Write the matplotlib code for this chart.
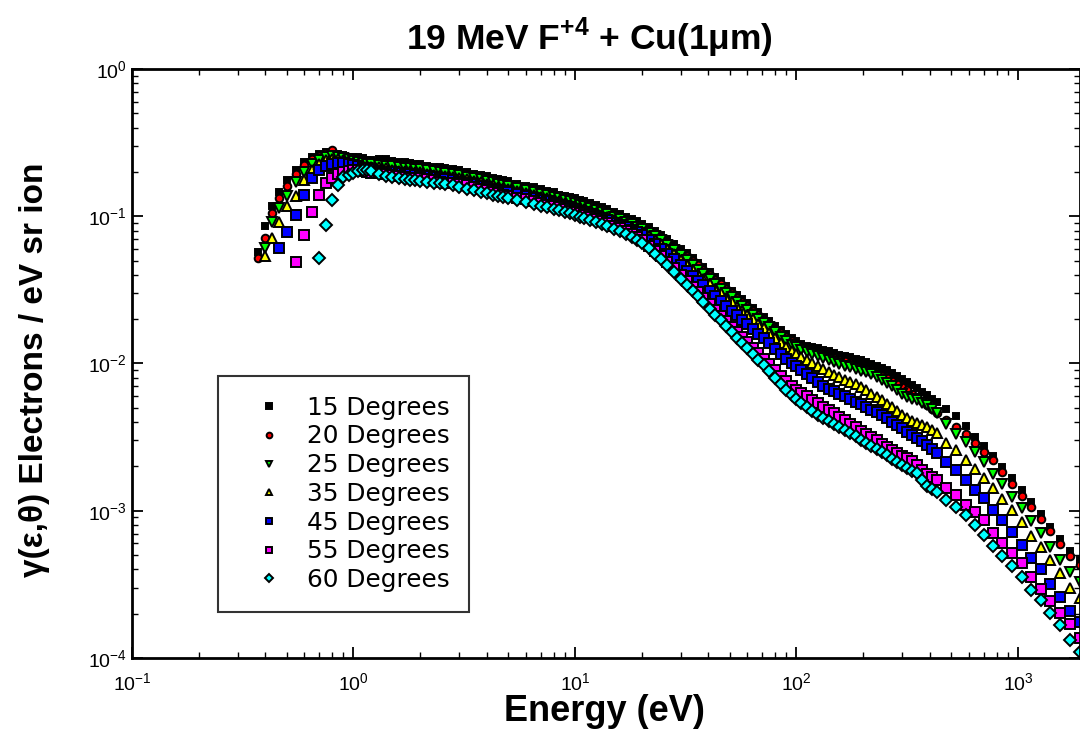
import numpy as np
import matplotlib
matplotlib.use("Agg")
import matplotlib.pyplot as plt

plt.rcParams['font.family'] = ['Liberation Sans', 'DejaVu Sans']
plt.rcParams['mathtext.fontset'] = 'custom'
plt.rcParams['mathtext.rm'] = 'Liberation Sans'
plt.rcParams['mathtext.bf'] = 'Liberation Sans:bold'

nan = np.nan

# electron energy grid (eV)
energy = [0.37, 0.40, 0.43, 0.46, 0.50, 0.55, 0.60, 0.65, 0.70, 0.75,
          0.80, 0.85, 0.90, 0.95, 1.0, 1.05, 1.1, 1.15, 1.2, 1.3,
          1.4, 1.5, 1.6, 1.7, 1.8, 1.9, 2.0, 2.15, 2.3, 2.45,
          2.6, 2.8, 3.0, 3.25, 3.5, 3.75, 4.0, 4.25, 4.5, 4.75,
          5.0, 5.5, 6.0, 6.5, 7.0, 7.5, 8.0, 8.5, 9.0, 9.5,
          10, 10.5, 11, 11.7, 12.5, 13.2, 14, 15, 16, 17,
          18, 19, 20, 21.5, 23, 24.5, 26, 28, 30, 32,
          34, 36, 38, 40.5, 43, 45.5, 48, 51, 54, 57,
          60, 63.5, 67, 71, 75, 80, 85, 90, 95, 100,
          105, 111, 118, 125, 132, 140, 148, 156, 165, 175,
          185, 195, 205, 217, 230, 242, 255, 270, 285, 300,
          315, 332, 350, 370, 390, 410, 430, 475, 525, 580,
          640, 700, 770, 850, 940, 1040, 1150, 1270, 1400, 1550,
          1720, 1900]

# yields, electrons / eV sr ion
y15 = [.0572, .0859, .1174, .1462, .1763, .2061, .2336, .2526, .2647, .2731,
       .2731, .2647, .2606, .2540, .2526, .2530, .2487, .2420, .2410, .2460,
       .2448, .2370, .2336, .2330, .2300, .2250, .2264, .2190, .2160, .2160,
       .2127, .2080, .2061, .2010, .1936, .1920, .1877, .1820, .1790, .1770,
       .1736, .1660, .1605, .1580, .1532, .1490, .1462, .1400, .1373, .1360,
       .1331, .1290, .1269, .1235, .1192, .1150, .1120, .1070, .1036, .0992,
       .0958, .0925, .0886, .0842, .0794, .0748, .0701, .0645, .0599, .0560,
       .0521, .0485, .0452, .0418, .0387, .0362, .0336, .0312, .0292, .0273,
       .0258, .0240, .0224, .0208, .0194, .0181, .0169, .0158, .0149, .0142,
       .0136, .0132, .0129, .0127, .0124, .0121, .0118, .0115, .0112, .0110,
       .0107, .0105, .0102, .00990, .00962, .00935, .00903, .00860, .00823, .00785,
       .00749, .00715, .00682, .00645, .00611, .00578, .00548, .00491, .00440, .00376,
       .00317, .00275, .00235, .00198, .00167, .00138, .00115, .000951, .000775, .000643,
       .000533, .000463]

y20 = [.0521, .0712, .1052, .1331, .1605, .1936, .2229, .2448, .2566, .2689,
       .2818, .2606, .2526, .2450, .2410, .2400, .2373, .2320, .2300, .2310,
       .2300, .2250, .2229, .2230, .2194, .2150, .2127, .2120, .2094, .2050,
       .2029, .2000, .1967, .1910, .1877, .1840, .1790, .1740, .1709, .1690,
       .1656, .1600, .1556, .1500, .1462, .1430, .1395, .1360, .1331, .1300,
       .1269, .1240, .1211, .1170, .1137, .1100, .1069, .1030, .0989, .0950,
       .0914, .0880, .0845, .0800, .0758, .0712, .0669, .0618, .0572, .0535,
       .0497, .0463, .0432, .0398, .0369, .0344, .0321, .0299, .0279, .0262,
       .0246, .0229, .0213, .0198, .0185, .0172, .0161, .0151, .0142, .0135,
       .0129, .0126, .0122, .0118, .0114, .0111, .0109, .0106, .0104, .0100,
       .00962, .00935, .00903, .00876, .00849, .00822, .00797, .00760, .00726, .00693,
       .00661, .00625, .00592, .00556, .00523, .00490, .00461, .00413, .00370, .00332,
       .00288, .00251, .00221, .00183, .00152, .00126, .00106, .000879, .000729, .000595,
       .000493, .000428]

y25 = [nan, .0609, .0914, .1137, .1373, .1709, .1998, .2264, .2410, .2526,
       .2566, .2526, .2487, .2430, .2373, .2350, .2300, .2270, .2264, .2240,
       .2194, .2190, .2160, .2140, .2127, .2100, .2094, .2060, .2029, .2000,
       .1967, .1940, .1906, .1850, .1819, .1780, .1736, .1700, .1656, .1620,
       .1605, .1550, .1508, .1460, .1417, .1390, .1352, .1320, .1289, .1260,
       .1230, .1200, .1174, .1140, .1103, .1070, .1036, .0995, .0958, .0920,
       .0886, .0850, .0819, .0775, .0734, .0686, .0638, .0590, .0546, .0505,
       .0467, .0434, .0405, .0375, .0347, .0323, .0301, .0281, .0262, .0246,
       .0231, .0215, .0201, .0189, .0177, .0163, .0151, .0142, .0134, .0129,
       .0124, .0120, .0116, .0112, .0109, .0105, .0102, .00990, .00962, .00940,
       .00917, .00896, .00876, .00842, .00810, .00772, .00737, .00698, .00661, .00625,
       .00592, .00578, .00565, .00543, .00523, .00490, .00461, .00388, .00332, .00293,
       .00251, .00214, .00178, .00152, .00124, .00104, .000852, .000706, .000567, .000463,
       .000384, .000329]

y35 = [nan, .0537, .0712, .0914, .1174, .1373, .1763, .2061, .2264, .2410,
       .2448, .2448, .2410, .2350, .2300, .2240, .2194, .2190, .2160, .2150,
       .2127, .2070, .2029, .2040, .2029, .2010, .1998, .1950, .1906, .1900,
       .1877, .1850, .1819, .1780, .1736, .1700, .1656, .1620, .1580, .1560,
       .1532, .1480, .1439, .1390, .1352, .1320, .1289, .1260, .1230, .1200,
       .1174, .1150, .1120, .1090, .1052, .1020, .0989, .0950, .0914, .0880,
       .0845, .0815, .0782, .0735, .0690, .0645, .0599, .0550, .0505, .0467,
       .0432, .0403, .0375, .0347, .0321, .0299, .0279, .0260, .0242, .0227,
       .0213, .0199, .0185, .0173, .0161, .0149, .0138, .0130, .0122, .0116,
       .0111, .0106, .0101, .00962, .00917, .00876, .00835, .00805, .00773, .00750,
       .00726, .00693, .00661, .00625, .00592, .00561, .00531, .00503, .00476, .00450,
       .00426, .00410, .00394, .00382, .00370, .00353, .00337, .00288, .00259, .00221,
       .00192, .00167, .00143, .00120, .00101, .000838, .000674, .000567, .000463, .000378,
       .000299, .000256]

y45 = [nan, nan, nan, .0609, .0782, .1020, .1395, .1819, .2061, .2194,
       .2264, .2300, .2300, .2250, .2229, .2180, .2127, .2120, .2094, .2040,
       .1998, .1990, .1967, .1950, .1936, .1900, .1877, .1870, .1847, .1810,
       .1790, .1750, .1709, .1690, .1656, .1610, .1580, .1540, .1508, .1490,
       .1462, .1410, .1373, .1330, .1289, .1260, .1230, .1200, .1174, .1150,
       .1120, .1090, .1069, .1040, .1004, .0975, .0943, .0905, .0872, .0840,
       .0807, .0778, .0746, .0695, .0648, .0600, .0554, .0510, .0467, .0428,
       .0393, .0366, .0341, .0312, .0287, .0266, .0246, .0229, .0213, .0198,
       .0185, .0171, .0159, .0148, .0138, .0126, .0116, .0108, .0101, .00955,
       .00903, .00848, .00797, .00748, .00703, .00676, .00650, .00625, .00602, .00574,
       .00548, .00527, .00507, .00487, .00468, .00446, .00426, .00403, .00382, .00362,
       .00343, .00327, .00312, .00296, .00280, .00263, .00247, .00214, .00189, .00162,
       .00138, .00122, .00101, .000865, .000717, .000585, .000477, .000402, .000318, .000260,
       .000209, .000175]

y55 = [nan, nan, nan, nan, nan, .0489, .0746, .1069, .1395, .1682,
       .1819, .1936, .1998, .2040, .2061, .2050, .2029, .1990, .1967, .1960,
       .1936, .1900, .1877, .1850, .1819, .1830, .1819, .1790, .1763, .1720,
       .1682, .1670, .1656, .1620, .1580, .1540, .1508, .1470, .1439, .1400,
       .1373, .1340, .1310, .1270, .1230, .1200, .1174, .1150, .1120, .1090,
       .1069, .1045, .1020, .0990, .0958, .0930, .0900, .0865, .0832, .0795,
       .0758, .0722, .0690, .0632, .0581, .0533, .0489, .0442, .0399, .0363,
       .0331, .0304, .0279, .0254, .0231, .0211, .0194, .0178, .0164, .0151,
       .0140, .0128, .0118, .0108, .00992, .00900, .00823, .00762, .00703, .00665,
       .00630, .00598, .00565, .00535, .00507, .00483, .00461, .00436, .00413, .00390,
       .00370, .00350, .00332, .00317, .00302, .00286, .00271, .00259, .00247, .00237,
       .00228, .00216, .00204, .00190, .00178, .00170, .00162, .00143, .00128, .00109,
       .000981, .000865, .000706, .000604, .000516, .000442, .000355, .000294, .000244, .000202,
       .000170, .000137]

y60 = [nan, nan, nan, nan, nan, nan, nan, nan, .0521, .0872,
       .1289, .1630, .1847, .1920, .1967, .2030, .2061, .2050, .2029, .1950,
       .1877, .1850, .1819, .1790, .1763, .1750, .1736, .1710, .1682, .1670,
       .1656, .1620, .1580, .1540, .1508, .1470, .1439, .1400, .1373, .1350,
       .1331, .1290, .1249, .1210, .1174, .1150, .1120, .1095, .1069, .1045,
       .1020, .0995, .0973, .0945, .0914, .0885, .0859, .0825, .0794, .0758,
       .0723, .0690, .0658, .0605, .0554, .0510, .0467, .0418, .0375, .0341,
       .0311, .0286, .0262, .0236, .0213, .0196, .0180, .0164, .0149, .0138,
       .0127, .0116, .0106, .00970, .00889, .00800, .00726, .00665, .00611, .00573,
       .00539, .00506, .00476, .00450, .00426, .00406, .00388, .00370, .00353, .00337,
       .00322, .00304, .00288, .00275, .00263, .00251, .00239, .00226, .00214, .00204,
       .00195, .00187, .00180, .00162, .00147, .00140, .00134, .00118, .00106, .000936,
       .000800, .000684, .000576, .000493, .000422, .000355, .000290, .000248, .000202, .000167,
       .000133, .000110]

labels = ['15 Degrees', '20 Degrees', '25 Degrees', '35 Degrees',
          '45 Degrees', '55 Degrees', '60 Degrees']
series = [y15, y20, y25, y35, y45, y55, y60]
colors = ['black', 'red', '#00ff00', '#ffff00', '#0000ff', '#ff00ff', '#00ffff']
markers = ['s', 'o', 'v', '^', 's', 's', 'D']
sizes = [5, 5.5, 6.5, 6.5, 6.5, 6.5, 6]

fig = plt.figure(figsize=(10.8, 7.55), dpi=100)
ax = fig.add_axes([0.1222, 0.1285, 0.8778, 0.7801])

for yv, lab, c, m, s in zip(series, labels, colors, markers, sizes):
    ax.plot(energy, yv, linestyle='none', marker=m, ms=s, mfc=c, mec='black',
            mew=1.4, label=lab)

ax.set_xscale('log')
ax.set_yscale('log')
ax.set_xlim(0.1, 1905)
ax.set_ylim(1e-4, 1)

for sp in ax.spines.values():
    sp.set_linewidth(2)
ax.tick_params(which='both', direction='in', top=True, right=True, labelsize=14)
ax.tick_params(which='major', length=8, width=1.3)
ax.tick_params(which='minor', length=4, width=1.0)
ax.tick_params(axis='x', pad=10)

leg = ax.legend(loc='upper left', bbox_to_anchor=(0.0907, 0.4788),
                prop={'family': 'DejaVu Sans', 'size': 17.8},
                frameon=True, fancybox=False, edgecolor='black', borderpad=0.8,
                labelspacing=0.19, handletextpad=0.3, handlelength=2.5,
                borderaxespad=0, markerscale=0.75)
leg.get_frame().set_linewidth(1.5)

fig.text(0.546, 0.950, r"19 MeV F$^{\mathbf{+4}}$ + Cu(1μm)", fontsize=25.5,
         fontweight='bold', ha='center', va='center')
fig.text(0.56, 0.057, "Energy (eV)", fontsize=26, fontweight='bold',
         ha='center', va='center')
fig.text(0.032, 0.51, "γ(ε,θ) Electrons / eV sr ion", fontsize=24,
         fontweight='bold', rotation=90, ha='center', va='center')

fig.savefig("out.png", dpi=100)
